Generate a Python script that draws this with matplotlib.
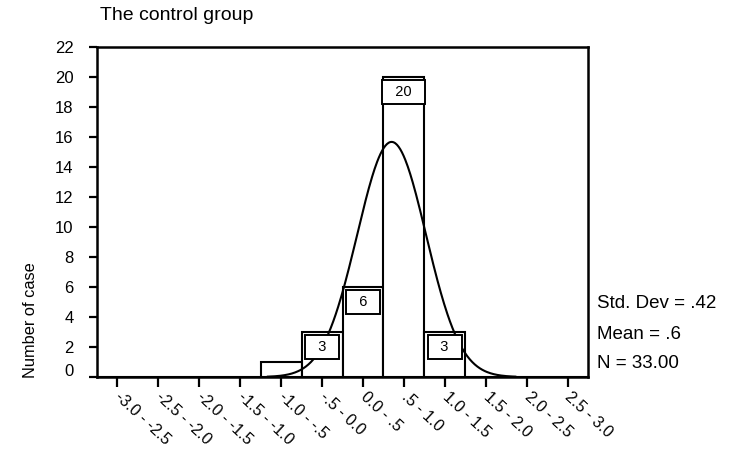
import numpy as np
import matplotlib.pyplot as plt
from matplotlib.transforms import ScaledTranslation

plt.rcParams['font.family'] = ['Liberation Sans', 'DejaVu Sans']

# Histogram of the control group
bin_edges = [-3.0, -2.5, -2.0, -1.5, -1.0, -0.5, 0.0, 0.5, 1.0, 1.5, 2.0, 2.5, 3.0]
counts = [0, 0, 0, 0, 1, 3, 6, 20, 3, 0, 0, 0]
bin_labels = ["-3.0 - -2.5", "-2.5 - -2.0", "-2.0 - -1.5", "-1.5 - -1.0",
              "-1.0 - -.5", "-.5 - 0.0", "0.0 - .5", ".5 - 1.0",
              "1.0 - 1.5", "1.5 - 2.0", "2.0 - 2.5", "2.5 - 3.0"]
labelled = [5, 6, 7, 8]  # bars that carry a count box

std_dev = 0.42
mean = 0.6
n_cases = 33

edges = np.array(bin_edges)
centers = (edges[:-1] + edges[1:]) / 2
width = edges[1] - edges[0]

fig = plt.figure(figsize=(7.31, 4.51), dpi=100)
ax = fig.add_axes([97 / 731, 1 - 377 / 451, 491 / 731, 330 / 451])

ax.bar(centers, counts, width=width, color='white', edgecolor='black',
       linewidth=1.5, zorder=1)

# fitted normal curve scaled to counts per bin
xs = np.linspace(mean - 3.6 * std_dev, mean + 3.6 * std_dev, 300)
ys = n_cases * width / (std_dev * np.sqrt(2 * np.pi)) * np.exp(-0.5 * ((xs - mean) / std_dev) ** 2)
ax.plot(xs, ys, color='black', linewidth=1.5, zorder=2)

for i in labelled:
    ax.annotate(f"  {counts[i]}  ", (centers[i], counts[i]), xytext=(0, -10.6),
                textcoords='offset points', ha='center', va='center', fontsize=10.5,
                bbox=dict(boxstyle='square,pad=0.34', fc='white', ec='black', lw=1.4),
                zorder=3)

ax.set_xlim(-3, 3)
ax.set_ylim(0, 22)
ax.set_yticks(range(0, 23, 2))
ax.set_xticks(centers)
ax.set_xticklabels(bin_labels, rotation=-43, ha='left', va='center',
                   rotation_mode='anchor', fontsize=11.5)
ax.tick_params(axis='y', labelsize=12, length=6, width=1.6, pad=11)
ax.tick_params(axis='x', length=7, width=1.6, pad=6)
for sp in ax.spines.values():
    sp.set_linewidth(1.8)

# nudge the zero label up off the baseline
zero_lbl = ax.yaxis.get_major_ticks()[0].label1
zero_lbl.set_transform(zero_lbl.get_transform() + ScaledTranslation(0, 7 / 100, fig.dpi_scale_trans))

ax.set_ylabel("Number of case", fontsize=11.8)
ax.yaxis.set_label_coords(-0.12, 0.173)

fig.text(100 / 731, 1 - 20 / 451, "The control group", fontsize=14, va='baseline')

stats = [f"Std. Dev = {std_dev:.2f}".replace("0.", "."),
         f"Mean = {mean:.1f}".replace("0.", "."),
         f"N = {n_cases:.2f}"]
for txt, yy in zip(stats, [0.224, 0.130, 0.042]):
    ax.text(1.018, yy, txt, transform=ax.transAxes, fontsize=13.5, va='center', ha='left')

fig.savefig("out.png", dpi=100)
